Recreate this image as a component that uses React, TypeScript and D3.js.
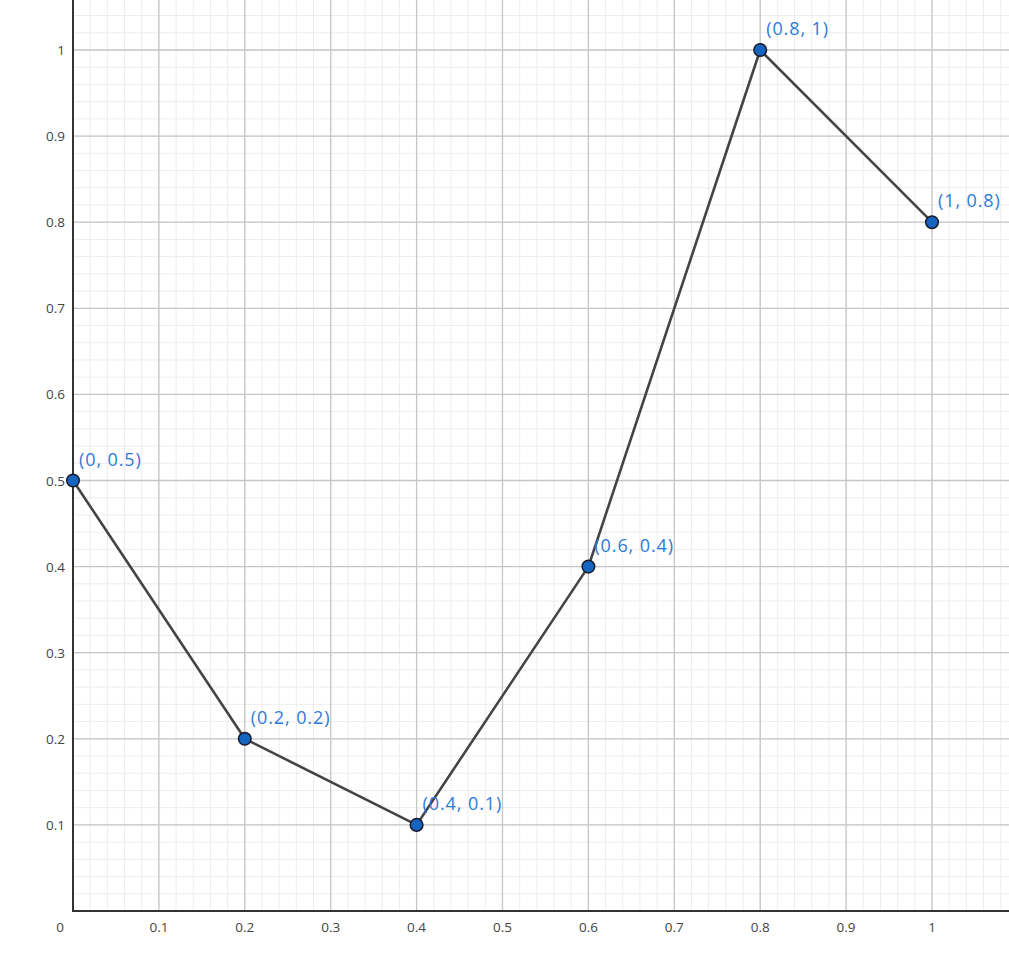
import React from "react";
import * as d3 from "d3";

const xValues = [0, 0.2, 0.4, 0.6, 0.8, 1];
const yValues = [0.5, 0.2, 0.1, 0.4, 1, 0.8];
const pointLabels = ["(0, 0.5)", "(0.2, 0.2)", "(0.4, 0.1)", "(0.6, 0.4)", "(0.8, 1)", "(1, 0.8)"];
const xTickLabels = ["0.1", "0.2", "0.3", "0.4", "0.5", "0.6", "0.7", "0.8", "0.9", "1", "1.1"];
const yTickLabels = ["0.1", "0.2", "0.3", "0.4", "0.5", "0.6", "0.7", "0.8", "0.9", "1"];

const W = 1009;
const H = 977;
const X0 = 73, X1 = 932;
const Y0 = 911, Y1 = 50;

export default function App() {
  const x = d3.scaleLinear().domain([0, 1]).range([X0, X1]);
  const y = d3.scaleLinear().domain([0, 1]).range([Y0, Y1]);
  const xMax = x.invert(W);
  const yMax = y.invert(0);
  const minorX = d3.range(0, xMax + 1e-9, 0.02);
  const minorY = d3.range(0, yMax + 1e-9, 0.02);
  const majorX = d3.range(0.1, xMax + 1e-9, 0.1);
  const majorY = d3.range(0.1, yMax + 1e-9, 0.1);
  const data = xValues.map((v, i) => ({ x: v, y: yValues[i], label: pointLabels[i] }));
  const line = d3.line<{ x: number; y: number }>().x((d) => x(d.x)).y((d) => y(d.y));
  const font = "'Segoe UI', 'Open Sans', 'Noto Sans', sans-serif";

  return (
    <svg width={W} height={H} style={{ position: "absolute", left: 0, top: 0, background: "#fff" }}>
      <g>
        {minorX.map((v, i) => (
          <line key={"mx" + i} x1={x(v)} x2={x(v)} y1={0} y2={Y0} stroke="#ededed" strokeWidth={1} />
        ))}
        {minorY.map((v, i) => (
          <line key={"my" + i} x1={X0} x2={W} y1={y(v)} y2={y(v)} stroke="#ededed" strokeWidth={1} />
        ))}
        {majorX.map((v, i) => (
          <line key={"Mx" + i} x1={x(v)} x2={x(v)} y1={0} y2={Y0} stroke="#c6c6c6" strokeWidth={1.3} />
        ))}
        {majorY.map((v, i) => (
          <line key={"My" + i} x1={X0} x2={W} y1={y(v)} y2={y(v)} stroke="#c6c6c6" strokeWidth={1.3} />
        ))}
      </g>
      <line x1={X0} x2={X0} y1={0} y2={Y0 + 1} stroke="#333" strokeWidth={2} />
      <line x1={X0 - 1} x2={W} y1={Y0} y2={Y0} stroke="#333" strokeWidth={2} />
      <g fontFamily={font} fontSize={13.5} fill="#444">
        <text x={60} y={932} textAnchor="middle">0</text>
        {xTickLabels.map((t, i) => (
          <text key={"xt" + i} x={x((i + 1) / 10)} y={932} textAnchor="middle">{t}</text>
        ))}
        {yTickLabels.map((t, i) => (
          <text key={"yt" + i} x={65} y={y((i + 1) / 10) + 5} textAnchor="end">{t}</text>
        ))}
      </g>
      <path d={line(data) || ""} fill="none" stroke="#444" strokeWidth={2.6} strokeLinejoin="round" />
      {data.map((d, i) => (
        <circle key={"c" + i} cx={x(d.x)} cy={y(d.y)} r={6.3} fill="#1565c0" stroke="#1a1a2a" strokeWidth={1.5} />
      ))}
      <g fontFamily={font} fontSize={18} fill="#2e7bd6" letterSpacing={0.9}>
        {data.map((d, i) => (
          <text key={"l" + i} x={x(d.x) + 6} y={y(d.y) - 15}>{d.label}</text>
        ))}
      </g>
    </svg>
  );
}
